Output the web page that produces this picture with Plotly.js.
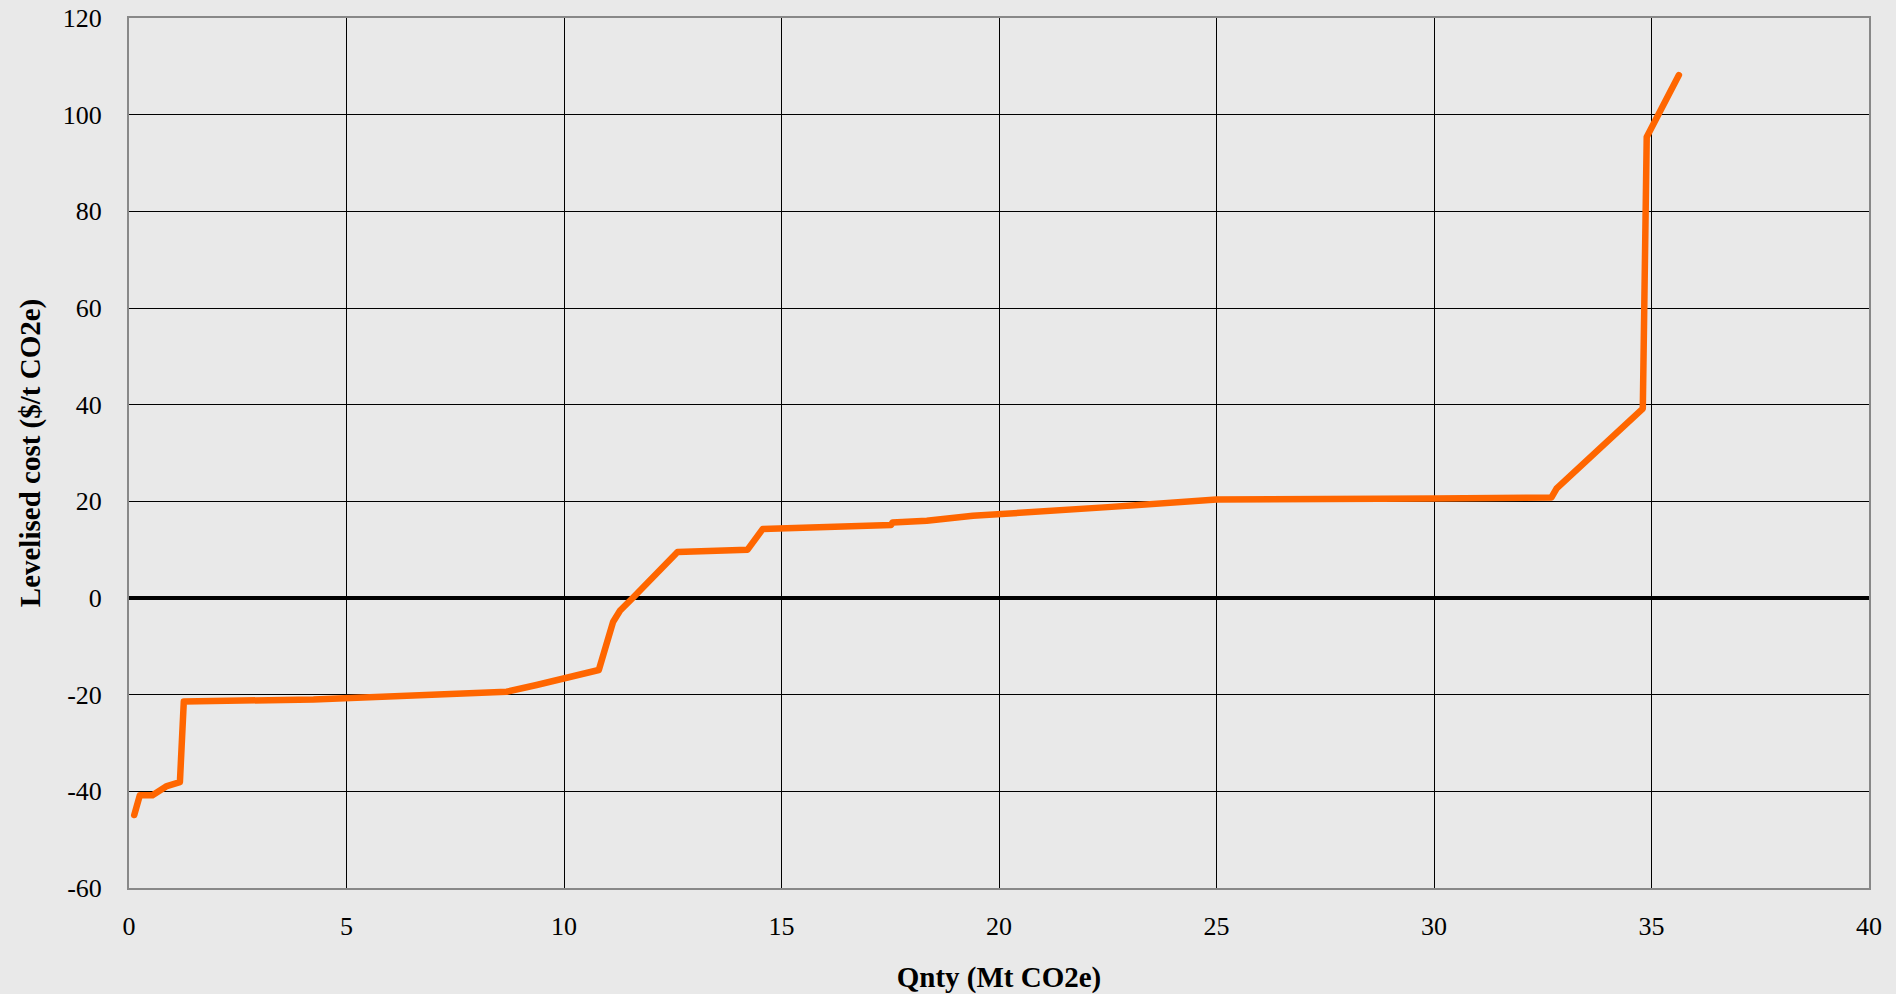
<!DOCTYPE html>
<html>
<head>
<meta charset="utf-8">
<script src="https://cdn.plot.ly/plotly-3.0.1.min.js"></script>
<style>
  html, body { margin: 0; padding: 0; background: #e9e9e9; }
  #chart { width: 1896px; height: 994px; }
  .scatterlayer path.js-line { stroke-linecap: round; stroke-linejoin: round; }
</style>
</head>
<body>
<div id="chart"></div>
<script>
// Quantity (Mt CO2e), cumulative
const qnty = [0.12, 0.25, 0.54, 0.87, 1.17, 1.26, 4.24, 8.68, 9.37, 10.8, 11.13, 11.29, 11.59, 12.61, 14.22, 14.57, 17.52, 17.55, 18.34, 19.4, 22.5, 25.0, 30.0, 32.7, 32.82, 34.8, 34.89, 35.63];
// Levelised cost ($/t CO2e)
const cost = [-44.9, -40.8, -40.8, -38.9, -38.1, -21.4, -21.0, -19.4, -18.0, -14.9, -4.9, -2.6, 0.1, 9.5, 10.0, 14.3, 15.1, 15.6, 16.0, 17.0, 18.8, 20.4, 20.6, 20.8, 22.7, 39.2, 95.4, 108.2];

const xTicks = [0, 5, 10, 15, 20, 25, 30, 35, 40];
const yTicks = [-60, -40, -20, 0, 20, 40, 60, 80, 100, 120];

const fontFam = 'Liberation Serif, serif';

const trace = {
  x: qnty,
  y: cost,
  type: 'scatter',
  mode: 'lines',
  line: { color: '#ff6600', width: 6.5 },
  hoverinfo: 'x+y'
};

const layout = {
  width: 1896,
  height: 994,
  paper_bgcolor: '#e9e9e9',
  plot_bgcolor: '#e9e9e9',
  margin: { l: 129, r: 27, t: 18, b: 106 },
  showlegend: false,
  font: { family: fontFam, size: 26, color: '#000' },
  xaxis: {
    range: [0, 40],
    tickvals: xTicks,
    ticktext: xTicks.map(String),
    showgrid: true,
    gridcolor: '#000',
    gridwidth: 1,
    zeroline: false,
    showline: true,
    linecolor: '#888888',
    linewidth: 2,
    mirror: true,
    ticks: '',
    ticklabelstandoff: 14,
    tickfont: { family: fontFam, size: 26, color: '#000' },
    title: { text: '<b>Qnty (Mt CO2e)</b>', font: { family: fontFam, size: 29, color: '#000' }, standoff: 28 }
  },
  yaxis: {
    range: [-60, 120],
    tickvals: yTicks,
    ticktext: yTicks.map(String),
    showgrid: true,
    gridcolor: '#000',
    gridwidth: 1,
    zeroline: true,
    zerolinecolor: '#000',
    zerolinewidth: 4,
    showline: true,
    linecolor: '#888888',
    linewidth: 2,
    mirror: true,
    ticks: '',
    ticklabelstandoff: 20,
    tickfont: { family: fontFam, size: 26, color: '#000' },
    title: { text: '<b>Levelised cost ($/t CO2e)</b>', font: { family: fontFam, size: 29, color: '#000' }, standoff: 14 }
  }
};

Plotly.newPlot('chart', [trace], layout, { displayModeBar: false, staticPlot: true });
</script>
</body>
</html>
